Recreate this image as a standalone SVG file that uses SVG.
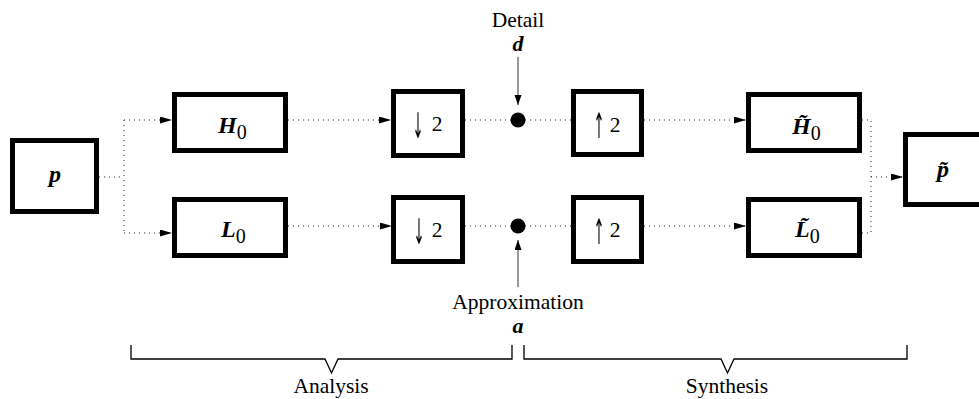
<svg xmlns="http://www.w3.org/2000/svg" width="979" height="399" viewBox="0 0 979 399">
  <defs>
    <marker id="head" markerUnits="userSpaceOnUse" markerWidth="13" markerHeight="8" refX="12" refY="3.5" orient="auto">
      <path d="M0,0 L12,3.5 L0,7 z" fill="#000"/>
    </marker>
    <marker id="thin" markerUnits="userSpaceOnUse" markerWidth="11" markerHeight="8" refX="10" refY="3.5" orient="auto">
      <path d="M0,0 L10,3.5 L0,7 z" fill="#000"/>
    </marker>
    <!-- neutral grey rendering for the slim rate-change arrows -->
    <filter id="mono" x="-50%" y="-20%" width="200%" height="140%">
      <feColorMatrix type="saturate" values="0"/>
    </filter>
    <style>
      .box { fill: #fff; stroke: #000; stroke-width: 5; }
      .dot { fill: none; stroke: #222; stroke-width: 1; stroke-dasharray: 1 4; }
      .solid { fill: none; stroke: #333; stroke-width: 1; }
      .brace { fill: none; stroke: #000; stroke-width: 1.3; }
      .t { font-family: "Liberation Serif", "Times New Roman", serif; font-size: 21.5px; fill: #000; }
      .m { font-family: "Liberation Serif", "Times New Roman", serif; font-size: 24px; font-weight: bold; font-style: italic; fill: #000; }
      .ms { font-size: 22px; }
      .sub { font-weight: normal; font-style: normal; font-size: 20px; }
      .arr { font-family: "DejaVu Sans", sans-serif; font-size: 22px; fill: #000; text-anchor: middle; }
      .c { text-anchor: middle; }
    </style>
  </defs>

  <!-- signal paths -->
  <g id="connectors">
    <path class="dot" d="M99,177 H124"/>
    <path class="dot" d="M124,120 V233"/>
    <path class="dot" d="M124,120 H172" marker-end="url(#head)"/>
    <path class="dot" d="M124,233 H172" marker-end="url(#head)"/>
    <path class="dot" d="M288,120 H391" marker-end="url(#head)"/>
    <path class="dot" d="M288,226 H392" marker-end="url(#head)"/>
    <path class="dot" d="M465,120 H571"/>
    <path class="dot" d="M465,226 H571"/>
    <path class="dot" d="M644,120 H746" marker-end="url(#head)"/>
    <path class="dot" d="M644,226 H746" marker-end="url(#head)"/>
    <path class="dot" d="M862,120 H871 V233 H862"/>
    <path class="dot" d="M871,177 H903" marker-end="url(#head)"/>
    <path class="solid" d="M518,57 V105" marker-end="url(#thin)"/>
    <path class="solid" d="M518,287 V240" marker-end="url(#thin)"/>
  </g>

  <g id="input-p">
    <rect class="box" x="12.5" y="140.5" width="84" height="71"/>
    <text class="m c" x="55" y="182">p</text>
  </g>

  <g id="filter-H0">
    <rect class="box" x="174.5" y="94.5" width="111" height="56"/>
    <text class="m" x="218" y="133">H<tspan class="sub" dy="6">0</tspan></text>
  </g>

  <g id="filter-L0">
    <rect class="box" x="174.5" y="199.5" width="111" height="56"/>
    <text class="m" x="221" y="237">L<tspan class="sub" dy="6">0</tspan></text>
  </g>

  <!-- the up/down arrows are stretched vertically to a slender form -->
  <g id="down-upper">
    <rect class="box" x="393.5" y="91.5" width="69" height="64"/>
    <g filter="url(#mono)"><text class="arr" transform="translate(418,138) scale(0.6,1.6)">↓</text></g>
    <text class="t c" x="437" y="131">2</text>
  </g>

  <g id="down-lower">
    <rect class="box" x="393.5" y="197.5" width="69" height="64"/>
    <g filter="url(#mono)"><text class="arr" transform="translate(419,244) scale(0.6,1.6)">↓</text></g>
    <text class="t c" x="437" y="237">2</text>
  </g>

  <g id="node-d">
    <circle cx="518" cy="120" r="7.5" fill="#000"/>
  </g>
  <g id="node-a">
    <circle cx="518" cy="226" r="7.5" fill="#000"/>
  </g>

  <g id="label-detail">
    <text class="t c" x="518" y="27">Detail</text>
    <text class="m ms c" x="518" y="51">d</text>
  </g>

  <g id="label-approx">
    <text class="t c" x="518" y="309">Approximation</text>
    <text class="m ms c" x="518" y="333">a</text>
  </g>

  <g id="up-upper">
    <rect class="box" x="573.5" y="91.5" width="68" height="63"/>
    <g filter="url(#mono)"><text class="arr" transform="translate(599,138) scale(0.6,1.6)">↑</text></g>
    <text class="t c" x="615" y="132">2</text>
  </g>

  <g id="up-lower">
    <rect class="box" x="573.5" y="197.5" width="68" height="64"/>
    <g filter="url(#mono)"><text class="arr" transform="translate(599,244) scale(0.6,1.6)">↑</text></g>
    <text class="t c" x="615" y="237">2</text>
  </g>

  <g id="filter-H0-tilde">
    <rect class="box" x="748.5" y="94.5" width="111" height="56"/>
    <text class="m" x="792" y="134">H̃<tspan class="sub" dy="6">0</tspan></text>
  </g>

  <g id="filter-L0-tilde">
    <rect class="box" x="748.5" y="199.5" width="111" height="56"/>
    <text class="m" x="795" y="237">L̃<tspan class="sub" dy="6">0</tspan></text>
  </g>

  <g id="output-p-tilde">
    <rect class="box" x="905.5" y="134.5" width="78" height="70"/>
    <text class="m c" x="943" y="177">p̃</text>
  </g>

  <!-- stage brackets -->
  <g id="bracket-analysis">
    <path class="brace" d="M131,345 V359 H325 L331.5,373 L338,359 H512 V345"/>
    <text class="t c" x="331" y="393">Analysis</text>
  </g>
  <g id="bracket-synthesis">
    <path class="brace" d="M524,345 V359 H721 L727.5,373 L734,359 H907 V345"/>
    <text class="t c" x="727" y="393">Synthesis</text>
  </g>
</svg>
